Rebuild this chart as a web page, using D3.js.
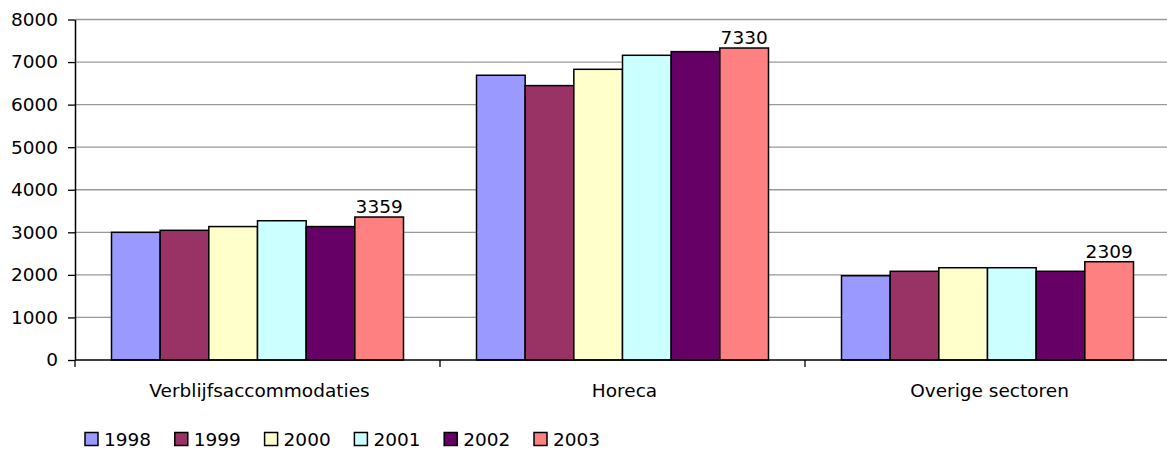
<!DOCTYPE html>
<html><head><meta charset="utf-8">
<script src="https://cdn.jsdelivr.net/npm/d3@7"></script>
<style>body{margin:0;background:#fff;} text{font-family:"DejaVu Sans",sans-serif;}</style>
</head><body><svg id="c" width="1167" height="451"></svg>
<script>
const categories = ["Verblijfsaccommodaties", "Horeca", "Overige sectoren"];
const years = ["1998", "1999", "2000", "2001", "2002", "2003"];
const v1998 = [3000, 6690, 1980];
const v1999 = [3047, 6447, 2084];
const v2000 = [3135, 6830, 2168];
const v2001 = [3272, 7159, 2168];
const v2002 = [3135, 7245, 2084];
const v2003 = [3359, 7330, 2309];
const yTicks = [0, 1000, 2000, 3000, 4000, 5000, 6000, 7000, 8000];
const colors = ["#9999FF", "#993366", "#FFFFCC", "#CCFFFF", "#660066", "#FF8080"];
const series = [v1998, v1999, v2000, v2001, v2002, v2003];
const FS = 18.5;

const svg = d3.select("#c");
const L = 75, R = 1170, T = 19.5, B = 360;
const x0 = d3.scaleBand().domain(categories).range([L, R]).paddingInner(0).paddingOuter(0);
const x1 = d3.scaleBand().domain(years).range([0, x0.bandwidth()]).paddingInner(0).paddingOuter(0.75);
const y = d3.scaleLinear().domain([0, 8000]).range([B, T]);

// gridlines
svg.append("g").selectAll("line").data(yTicks.slice(1)).join("line")
  .attr("x1", L).attr("x2", 1167).attr("y1", d => y(d)).attr("y2", d => y(d))
  .attr("stroke", "#999").attr("stroke-width", 1.3);

// bars
const g = svg.append("g");
categories.forEach((c, ci) => {
  years.forEach((yr, si) => {
    const val = series[si][ci];
    g.append("rect")
      .attr("x", x0(c) + x1(yr)).attr("y", y(val))
      .attr("width", x1.bandwidth()).attr("height", B - y(val))
      .attr("fill", colors[si]).attr("stroke", "#000").attr("stroke-width", 1.5);
  });
  const v = v2003[ci];
  svg.append("text").attr("x", x0(c) + x1("2003") + x1.bandwidth() / 2).attr("y", y(v) - 4)
    .attr("text-anchor", "middle").attr("font-size", FS).text(v);
});

// y axis
const ya = svg.append("g").attr("transform", `translate(${L},0)`)
  .call(d3.axisLeft(y).tickValues(yTicks).tickFormat(d3.format("d")).tickSize(7).tickPadding(10).tickSizeOuter(0));
ya.select(".domain").attr("stroke", "#000").attr("stroke-width", 1.5);
ya.selectAll(".tick line").attr("stroke", "#000").attr("stroke-width", 1.3);
ya.selectAll("text").attr("font-size", FS).attr("font-family", "DejaVu Sans").attr("fill", "#000");

// x axis
svg.append("line").attr("x1", L).attr("x2", 1167).attr("y1", B).attr("y2", B).attr("stroke", "#000").attr("stroke-width", 1.5);
const bounds = [L, ...categories.slice(1).map(c => x0(c))];
svg.append("g").selectAll("line").data(bounds).join("line")
  .attr("x1", d => d).attr("x2", d => d).attr("y1", B).attr("y2", B + 7)
  .attr("stroke", "#000").attr("stroke-width", 1.3);
svg.append("g").selectAll("text").data(categories).join("text")
  .attr("x", d => x0(d) + x0.bandwidth() / 2 + 2).attr("y", 397)
  .attr("text-anchor", "middle").attr("font-size", FS).text(d => d);

// legend
const lg = svg.append("g");
years.forEach((yr, i) => {
  const lx = 85 + i * 89.8;
  lg.append("rect").attr("x", lx).attr("y", 432.5).attr("width", 13).attr("height", 13)
    .attr("fill", colors[i]).attr("stroke", "#000").attr("stroke-width", 1.5);
  lg.append("text").attr("x", lx + 19).attr("y", 446).attr("font-size", FS).text(yr);
});
</script></body></html>
